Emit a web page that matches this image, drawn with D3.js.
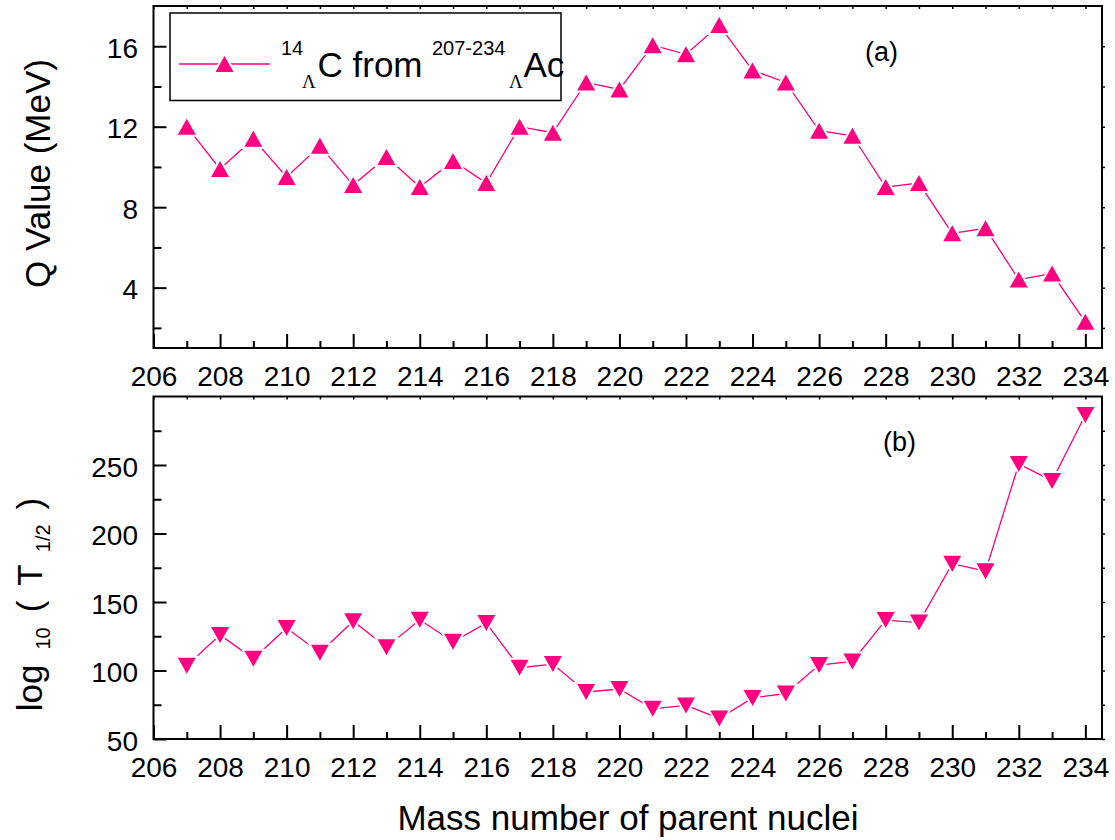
<!DOCTYPE html>
<html>
<head>
<meta charset="utf-8">
<script src="https://cdn.jsdelivr.net/npm/d3@7"></script>
<style>
  html, body { margin: 0; padding: 0; background: #fff; }
  svg { display: block; font-family: "Liberation Sans", Arial, sans-serif; }
</style>
</head>
<body>
<svg id="chart" width="1115" height="840"></svg>
<script>
// ---------------- data ----------------
const massNumbers = [207, 208, 209, 210, 211, 212, 213, 214, 215, 216, 217, 218, 219, 220,
                     221, 222, 223, 224, 225, 226, 227, 228, 229, 230, 231, 232, 233, 234];
const qValues = [12.0, 9.9, 11.4, 9.5, 11.05, 9.1, 10.5, 9.0, 10.3, 9.2, 12.0, 11.7, 14.2, 13.85,
                 16.05, 15.6, 17.05, 14.8, 14.2, 11.8, 11.55, 9.0, 9.2, 6.7, 6.95, 4.4, 4.7, 2.3];
const logHalfLife = [103.5, 126, 108.5, 131, 113, 136, 117, 137, 121, 134.6, 102, 104.7, 84.3, 86.5,
                     72, 74.5, 65, 80, 83.2, 104, 106.6, 136.8, 135, 178, 172.5, 250.8, 238.4, 286.5];
const xMajorTicks = [206, 208, 210, 212, 214, 216, 218, 220, 222, 224, 226, 228, 230, 232, 234];
const xMinorTicks = [207, 209, 211, 213, 215, 217, 219, 221, 223, 225, 227, 229, 231, 233];
const qMajorTicks = [4, 8, 12, 16];
const qMinorTicks = [2, 6, 10, 14];
const logMajorTicks = [50, 100, 150, 200, 250];
const logMinorTicks = [75, 125, 175, 225, 275];
const seriesColor = "#FF0080";

// ---------------- layout ----------------
const svg = d3.select("#chart");
const L = 153.5, R = 1102;
const x = d3.scaleLinear().domain([206, 234.5]).range([L, R]);
const yTop = d3.scaleLinear().domain([1, 18]).range([348, 6]);
const yBot = d3.scaleLinear().domain([50, 300]).range([739, 396.5]);

function tri(w, h, up) {
  return up ? `M0,${-h/2}L${w/2},${h/2}L${-w/2},${h/2}Z`
            : `M0,${h/2}L${w/2},${-h/2}L${-w/2},${-h/2}Z`;
}

function panel(y, yMajor, yMinor, values, up, label, labelPos) {
  const g = svg.append("g");
  const top = y.range()[1], bottom = y.range()[0];

  const ax = g.append("g").attr("transform", `translate(0,${bottom})`)
    .call(d3.axisBottom(x).tickValues(xMajorTicks).tickSize(-14).tickSizeOuter(0).tickPadding(18).tickFormat(d3.format("d")));
  ax.select(".domain").remove();
  ax.selectAll("line").attr("stroke-width", 2);
  ax.selectAll("text").attr("font-size", 28).attr("font-family", "Liberation Sans, Arial, sans-serif").attr("fill", "#000");
  const axm = g.append("g").attr("transform", `translate(0,${bottom})`)
    .call(d3.axisBottom(x).tickValues(xMinorTicks).tickSize(-7).tickSizeOuter(0).tickFormat(""));
  axm.select(".domain").remove();
  axm.selectAll("line").attr("stroke-width", 2);

  const axt = g.append("g").attr("transform", `translate(0,${top})`)
    .call(d3.axisTop(x).tickValues(xMajorTicks.concat(xMinorTicks)).tickSize(-3).tickSizeOuter(0).tickFormat(""));
  axt.select(".domain").remove();
  axt.selectAll("line").attr("stroke-width", 1.5);

  const ay = g.append("g").attr("transform", `translate(${L},0)`)
    .call(d3.axisLeft(y).tickValues(yMajor).tickSize(-13).tickSizeOuter(0).tickPadding(15.5).tickFormat(d3.format("d")));
  ay.select(".domain").remove();
  ay.selectAll("line").attr("stroke-width", 2);
  ay.selectAll("text").attr("font-size", 28).attr("dy", "0.4em").attr("font-family", "Liberation Sans, Arial, sans-serif").attr("fill", "#000");
  const aym = g.append("g").attr("transform", `translate(${L},0)`)
    .call(d3.axisLeft(y).tickValues(yMinor).tickSize(-8).tickSizeOuter(0).tickFormat(""));
  aym.select(".domain").remove();
  aym.selectAll("line").attr("stroke-width", 2);

  const ar = g.append("g").attr("transform", `translate(${R},0)`)
    .call(d3.axisRight(y).tickValues(yMajor.concat(yMinor)).tickSize(3).tickSizeOuter(0).tickFormat(""));
  ar.select(".domain").remove();
  ar.selectAll("line").attr("stroke-width", 1.5);

  g.append("rect").attr("x", L).attr("y", top).attr("width", R - L).attr("height", bottom - top)
    .attr("fill", "none").attr("stroke", "#000").attr("stroke-width", 2);

  const line = d3.line().x((d, i) => x(massNumbers[i])).y(d => y(d));
  g.append("path").datum(values).attr("d", line)
    .attr("fill", "none").attr("stroke", seriesColor).attr("stroke-width", 1.3);
  g.selectAll("path.mk").data(values).enter().append("path").attr("class", "mk")
    .attr("transform", (d, i) => `translate(${x(massNumbers[i])},${y(d)})`)
    .attr("d", tri(18, 16, up))
    .attr("fill", seriesColor).attr("stroke", "#fff").attr("stroke-width", 4)
    .style("paint-order", "stroke");

  g.append("text").attr("x", labelPos[0]).attr("y", labelPos[1]).attr("font-size", 27).text(label);
  return g;
}

panel(yTop, qMajorTicks, qMinorTicks, qValues, true, "(a)", [865, 61]);
panel(yBot, logMajorTicks, logMinorTicks, logHalfLife, false, "(b)", [883, 451]);

// ---------------- legend ----------------
const lg = svg.append("g");
lg.append("rect").attr("x", 170).attr("y", 13).attr("width", 391).attr("height", 87.5)
  .attr("fill", "#fff").attr("stroke", "#000").attr("stroke-width", 1.5);
lg.append("line").attr("x1", 179).attr("x2", 270).attr("y1", 64).attr("y2", 64)
  .attr("stroke", seriesColor).attr("stroke-width", 1.3);
lg.append("path").attr("transform", "translate(224.5,64)").attr("d", tri(18, 16, true))
  .attr("fill", seriesColor).attr("stroke", "#fff").attr("stroke-width", 4).style("paint-order", "stroke");
function txt(xp, yp, size, s, fam) {
  lg.append("text").attr("x", xp).attr("y", yp).attr("font-size", size)
    .attr("font-family", fam || "Liberation Sans, Arial, sans-serif").text(s);
}
txt(281, 55, 20, "14");
txt(302, 88, 19, "Λ", "Liberation Serif, Times New Roman, serif");
txt(317.5, 77, 35, "C from");
txt(432, 55, 20, "207-234");
txt(509, 88, 19, "Λ", "Liberation Serif, Times New Roman, serif");
txt(523.5, 77, 35, "Ac");

// ---------------- axis titles ----------------
svg.append("text").attr("x", 628).attr("y", 830).attr("text-anchor", "middle")
  .attr("font-size", 35).text("Mass number of parent nuclei");

svg.append("text").attr("transform", "translate(50,173.5) rotate(-90)")
  .attr("text-anchor", "middle").attr("font-size", 35).text("Q Value (MeV)");

const lt = svg.append("text").attr("transform", "translate(42,604.5) rotate(-90)")
  .attr("text-anchor", "middle").attr("font-size", 35);
lt.append("tspan").text("log");
lt.append("tspan").attr("font-size", 20).attr("dx", 15).attr("dy", 8).text("10");
lt.append("tspan").attr("dx", 15).attr("dy", -8).text("(");
lt.append("tspan").attr("dx", 15).text("T");
lt.append("tspan").attr("font-size", 20).attr("dx", 12).attr("dy", 8).text("1/2");
lt.append("tspan").attr("dx", 15).attr("dy", -8).text(")");
</script>
</body>
</html>
